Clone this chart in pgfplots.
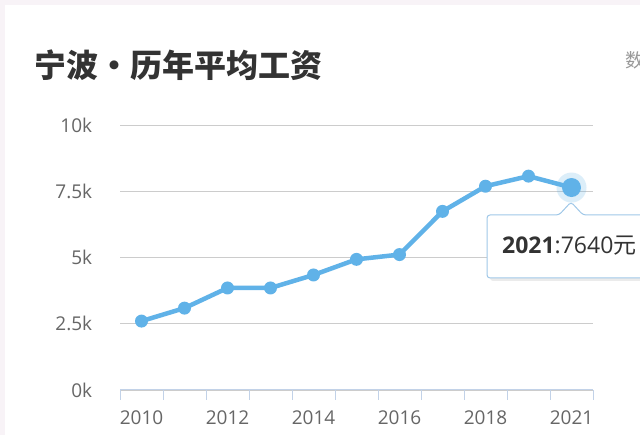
\documentclass[border=0pt]{standalone}
\usepackage{pgfplots}
\pgfplotsset{compat=1.18}
\usepackage{fontspec}
\setmainfont{Open Sans}
\newfontfamily\cjk{Noto Sans CJK SC}
\definecolor{pagebg}{RGB}{248,243,247}
\definecolor{linec}{RGB}{96,178,232}
\definecolor{gridc}{RGB}{204,204,204}
\definecolor{axisc}{RGB}{194,210,232}
\definecolor{tickc}{RGB}{102,102,102}
\definecolor{tipc}{RGB}{160,200,232}

\begin{document}
\begin{tikzpicture}[x=1pt,y=1pt]
\useasboundingbox (0,0) rectangle (640,435);
\clip (0,0) rectangle (640,435);
\fill[pagebg] (0,0) rectangle (640,435);
\fill[white] (5,0) rectangle (645,430);

% title
\node[anchor=base west, inner sep=0pt, text=black!80] at (34,357)
  {\fontsize{32}{34}\selectfont\cjk\bfseries 宁波•历年平均工资};
\node[anchor=base west, inner sep=0pt, text=black!40] at (625,367)
  {\fontsize{19}{20}\selectfont\cjk 数};

\begin{axis}[
  at={(120pt,45pt)}, anchor=south west,
  scale only axis, width=473pt, height=265pt,
  xmin=-0.5, xmax=10.5, ymin=0, ymax=10000,
  scaled y ticks=false,
  axis lines*=left,
  y axis line style={draw=none},
  x axis line style={color=axisc, line width=1pt},
  ytick={0,2500,5000,7500,10000},
  yticklabels={0k,2.5k,5k,7.5k,10k},
  ytick style={draw=none},
  ymajorgrids, grid style={gridc, line width=0.8pt},
  xtick={0,2,4,6,8,10},
  xticklabels={2010,2012,2014,2016,2018,2021},
  major x tick style={draw=none},
  minor xtick={-0.5,0.5,...,10.5},
  minor x tick style={color=axisc, line width=1pt},
  minor tick length=10pt,
  tick align=outside,
  tick label style={font=\fontsize{19}{20}\selectfont, text=tickc},
  yticklabel style={anchor=east, xshift=-20pt},
  xticklabel style={anchor=north, yshift=-13pt},
  clip=false,
]
\addplot[color=linec, line width=4.5pt, line join=round,
  mark=*, mark size=6.5pt, mark options={fill=linec, draw opacity=0}]
  coordinates {
    (0,2600) (1,3090) (2,3850) (3,3850) (4,4340) (5,4930)
    (6,5110) (7,6740) (8,7690) (9,8070) (10,7640)
  };
% highlighted last point
\addplot[color=linec, only marks, mark=*, mark size=15pt,
  mark options={fill=linec, fill opacity=0.22, draw opacity=0}]
  coordinates {(10,7640)};
\addplot[color=linec, only marks, mark=*, mark size=9.5pt,
  mark options={fill=linec, draw opacity=0}]
  coordinates {(10,7640)};
\end{axis}

% tooltip
\begin{scope}[rounded corners=3pt]
\fill[black, opacity=0.08] (490,154) -- (490,217) -- (562,217) -- (573,230) -- (584,217) -- (660,217) -- (660,154) -- cycle;
\filldraw[fill=white, draw=tipc, line width=1pt] (487,157) -- (487,220) -- (559,220) -- (571,233) -- (583,220) -- (660,220) -- (660,157) -- cycle;
\end{scope}
\node[anchor=base west, inner sep=0pt, text=black!80] at (502,181)
  {\fontsize{23}{25}\selectfont\textbf{2021}:7640\cjk 元};
\end{tikzpicture}
\end{document}
